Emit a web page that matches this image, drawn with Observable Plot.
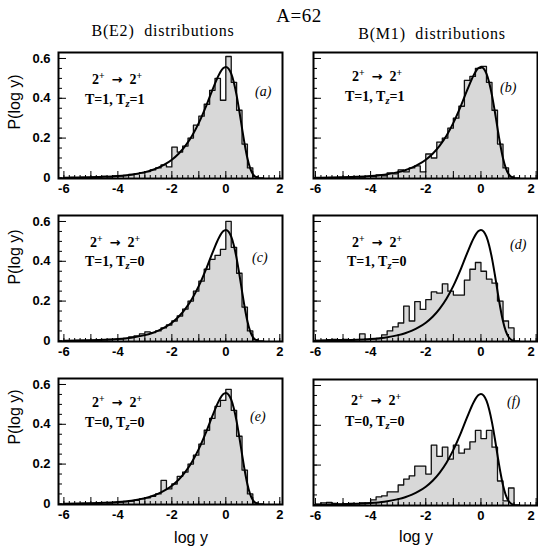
<!DOCTYPE html>
<html><head><meta charset="utf-8">
<script src="https://cdn.jsdelivr.net/npm/d3@7"></script>
<script src="https://cdn.jsdelivr.net/npm/@observablehq/plot@0.6"></script>
<style>
html,body{margin:0;padding:0;background:#fff;}
#wrap{position:relative;width:538px;height:553px;overflow:hidden;background:#fff;}
.t{position:absolute;white-space:nowrap;line-height:1;color:#000;}
.serif{font-family:"Liberation Serif","Times New Roman",serif;}
.sans{font-family:"Liberation Sans",Arial,sans-serif;}
.ann{font-family:"Liberation Serif","Times New Roman",serif;font-weight:bold;font-size:14px;transform:translateY(-50%);}
.ann sup{font-size:70%;vertical-align:0.5em;line-height:0;}
.ann sub{font-size:75%;vertical-align:-0.3em;line-height:0;font-style:italic;}
.ann .arr{font-family:"DejaVu Sans",sans-serif;font-weight:bold;font-size:13px;}
.lab{font-family:"Liberation Serif","Times New Roman",serif;font-style:italic;font-size:14px;transform:translateY(-50%);}
</style></head><body><div id="wrap"></div>
<script>
// ---- data ----
const binLeft = [-6.0,-5.8,-5.6,-5.4,-5.2,-5.0,-4.8,-4.6,-4.4,-4.2,-4.0,-3.8,-3.6,-3.4,-3.2,-3.0,-2.8,-2.6,-2.4,-2.2,-2.0,-1.8,-1.6,-1.4,-1.2,-1.0,-0.8,-0.6,-0.4,-0.2,0.0,0.2,0.4,0.6,0.8,1.0,1.2,1.4];
const histA = [0,0.002,0,0.003,0.002,0.004,0.004,0.008,0.005,0.01, 0.01,0.013,0.017,0.02,0.026,0.032,0.04,0.05,0.065,0.055, 0.155,0.13,0.16,0.20,0.265,0.31,0.37,0.44,0.50,0.39, 0.61,0.48,0.34,0.17,0.05,0.006,0,0];
const histB = [0,0,0,0,0.002,0.003,0.002,0.005,0.004,0.008, 0.006,0.015,0.01,0.025,0.02,0.04,0.03,0.05,0.06,0.03, 0.12,0.10,0.18,0.20,0.25,0.30,0.36,0.49,0.51,0.55, 0.56,0.48,0.34,0.17,0.05,0.005,0,0];
const histC = [0,0.001,0.002,0.002,0.003,0.003,0.004,0.005,0.007,0.008, 0.01,0.013,0.02,0.025,0.035,0.045,0.042,0.05,0.065,0.08, 0.10,0.125,0.16,0.20,0.25,0.30,0.36,0.41,0.43,0.46, 0.60,0.47,0.34,0.17,0.05,0.006,0,0];
const histD = [0.002,0.004,0.006,0.008,0.006,0.008,0.004,0.006,0.035,0.008, 0.01,0.012,0.03,0.05,0.07,0.09,0.175,0.10,0.197,0.158, 0.207,0.246,0.24,0.287,0.25,0.23,0.23,0.305,0.36,0.394, 0.35,0.31,0.29,0.20,0.10,0.065,0,0];
const histE = [0,0,0.001,0.002,0.002,0.003,0.004,0.006,0.004,0.007, 0.009,0.012,0.014,0.018,0.025,0.03,0.038,0.05,0.118,0.075, 0.10,0.138,0.16,0.20,0.245,0.30,0.37,0.43,0.49,0.52, 0.575,0.47,0.34,0.17,0.05,0.005,0,0];
const histF = [0.004,0.01,0.012,0.008,0.004,0.006,0.008,0.005,0.01,0.01, 0.025,0.04,0.045,0.065,0.065,0.10,0.13,0.146,0.195,0.195, 0.155,0.30,0.244,0.29,0.23,0.30,0.26,0.28,0.317,0.374, 0.333,0.374,0.29,0.12,0.02,0.085,0,0];

// Porter-Thomas curve
const curveX = [-6,-5.5,-5,-4.5,-4,-3.5,-3,-2.75,-2.5,-2.25,-2,-1.75,-1.5,-1.25,-1,-0.75,-0.5,-0.25,-0.1,0,0.1,0.2,0.3,0.4,0.5,0.6,0.7,0.8,0.9,1.0,1.1,1.2];
const curveP = [0.001,0.0016,0.0029,0.0052,0.0092,0.0163,0.029,0.0387,0.0516,0.0687,0.0914,0.1214,0.1608,0.2118,0.2763,0.3544,0.441,0.52,0.5504,0.557,0.5492,0.5236,0.4785,0.4146,0.336,0.2504,0.1678,0.0984,0.0488,0.0196,0.006,0.0013];

const xLabelTicks = [-6,-4,-2,0,2];
const xMajorTicks = [-6,-5,-4,-3,-2,-1,0,1,2];
const yLabelTicks = [0,0.2,0.4,0.6];

const panelLetters = ["(a)","(b)","(c)","(d)","(e)","(f)"];
const isoT  = ["1","1","1","1","0","0"];
const isoTz = ["1","1","0","0","0","0"];
const transition = "2<sup>+</sup>&nbsp;&nbsp;<span class='arr'>&rarr;</span>&nbsp;&nbsp;2<sup>+</sup>";
const colTitles = ["B(E2)&nbsp;&nbsp;distributions","B(M1)&nbsp;&nbsp;distributions"];
const mainTitle = "A=62";
const yTitle = "P(log y)";
const xTitle = "log y";

// ---- layout ----
const wrap = document.getElementById("wrap");
const hists = [histA, histB, histC, histD, histE, histF];
const frameTops = [52, 52, 215, 215, 378, 379];
const colFrameLeft = [58, 313];
const annPos = [ // [dx,dy] for transition, isospin, letter
  [[34,28],[27,48],[197,40]],
  [[39,25],[32,45],[187,36]],
  [[32,28],[27,47],[194,43]],
  [[39,28],[34,47],[197,30]],
  [[34,25],[27,45],[192,39]],
  [[38,22],[32,43],[194,23]]
];
const xMinor = d3.range(-6, 2.001, 0.2);
const yMinor = d3.range(0, 0.601, 0.05);
const fmtX = d => d < 0 ? "-" + (-d) : String(d);
const fmtY = d => d === 0 ? "0" : d.toFixed(1);

function makePanel(hist, col) {
  const L = col === 0;
  const table = binLeft.map((x, i) => ({x, p: hist[i]}));
  const curve = curveX.map((x, i) => ({x, p: curveP[i]}));
  const tickFont = {fontSize: 13, fontWeight: "bold"};
  const inner = L ? xLabelTicks : xLabelTicks.slice(0, -1);
  const marks = [
    Plot.areaY(table, {x: "x", y: "p", curve: "step-after", fill: "#d8d8d8"}),
    Plot.lineY(table, {x: "x", y: "p", curve: "step-after", stroke: "#111", strokeWidth: 1.3}),
    Plot.line(curve, {x: "x", y: "p", curve: "monotone-x", stroke: "#000", strokeWidth: 2}),
    Plot.axisX({ticks: xMinor, tickSize: 3, dy: -3, tickFormat: () => "", label: null}),
    Plot.axisX({ticks: xMajorTicks, tickSize: 7, dy: -7, tickFormat: () => "", label: null}),
    Plot.axisX({ticks: inner, tickSize: 0, tickPadding: 5, tickFormat: fmtX, label: null, ...tickFont}),
    L ? null : Plot.axisX({ticks: xLabelTicks.slice(-1), tickSize: 0, tickPadding: 5, tickFormat: fmtX, label: null, dx: -5, ...tickFont}),
    Plot.axisY({ticks: yMinor, tickSize: 4, dx: 4, tickFormat: () => "", label: null}),
    Plot.axisY({ticks: yLabelTicks, tickSize: 8, dx: 8, tickFormat: () => "", label: null}),
    L ? Plot.axisY({ticks: yLabelTicks, tickSize: 0, tickPadding: 8, tickFormat: fmtY, label: null, ...tickFont}) : null,
    Plot.frame({stroke: "#000", strokeWidth: 2})
  ].filter(Boolean);
  return Plot.plot({
    width: L ? 286 : 278,
    height: 158,
    marginLeft: L ? 58 : 53,
    marginRight: L ? 4 : 1,
    marginTop: 8,
    marginBottom: 24,
    x: {domain: L ? [-6.2, 2.1] : [-6.07, 2.05]},
    y: {domain: [-0.003, 0.63]},
    style: {background: "transparent", overflow: "visible", fontFamily: "'Liberation Sans', Arial, sans-serif", maxWidth: "none", color: "#000"},
    marks
  });
}

function addText(html, cls, x, y, extra) {
  const d = document.createElement("div");
  d.className = "t " + cls;
  d.innerHTML = html;
  d.style.left = x + "px";
  d.style.top = y + "px";
  if (extra) Object.assign(d.style, extra);
  wrap.appendChild(d);
  return d;
}

hists.forEach((h, i) => {
  const col = i % 2;
  const svg = makePanel(h, col);
  svg.style.position = "absolute";
  svg.style.left = (col === 0 ? 0 : 260) + "px";
  svg.style.top = (frameTops[i] - 8) + "px";
  wrap.appendChild(svg);
  const fl = colFrameLeft[col], ft = frameTops[i];
  const p = annPos[i];
  addText(transition, "ann", fl + p[0][0], ft + p[0][1]);
  addText("T=" + isoT[i] + ", T<sub>z</sub>=" + isoTz[i], "ann", fl + p[1][0], ft + p[1][1]);
  addText(panelLetters[i], "lab", fl + p[2][0], ft + p[2][1]);
});

// titles
addText(mainTitle, "serif", 299, 15, {fontSize: "19px", letterSpacing: "0.5px", transform: "translate(-50%,-50%)"});
addText(colTitles[0], "serif", 163, 31, {fontSize: "16px", letterSpacing: "0.8px", transform: "translate(-50%,-50%)"});
addText(colTitles[1], "serif", 432, 34, {fontSize: "16px", letterSpacing: "0.8px", transform: "translate(-50%,-50%)"});
// y titles
[102, 257, 417].forEach(cy => {
  addText(yTitle, "sans", 15, cy, {fontSize: "16px", transform: "translate(-50%,-50%) rotate(-90deg)"});
});
// x titles
addText(xTitle, "sans", 191, 538, {fontSize: "16px", transform: "translate(-50%,-50%)"});
addText(xTitle, "sans", 416, 537, {fontSize: "16px", transform: "translate(-50%,-50%)"});
</script>
</body></html>
